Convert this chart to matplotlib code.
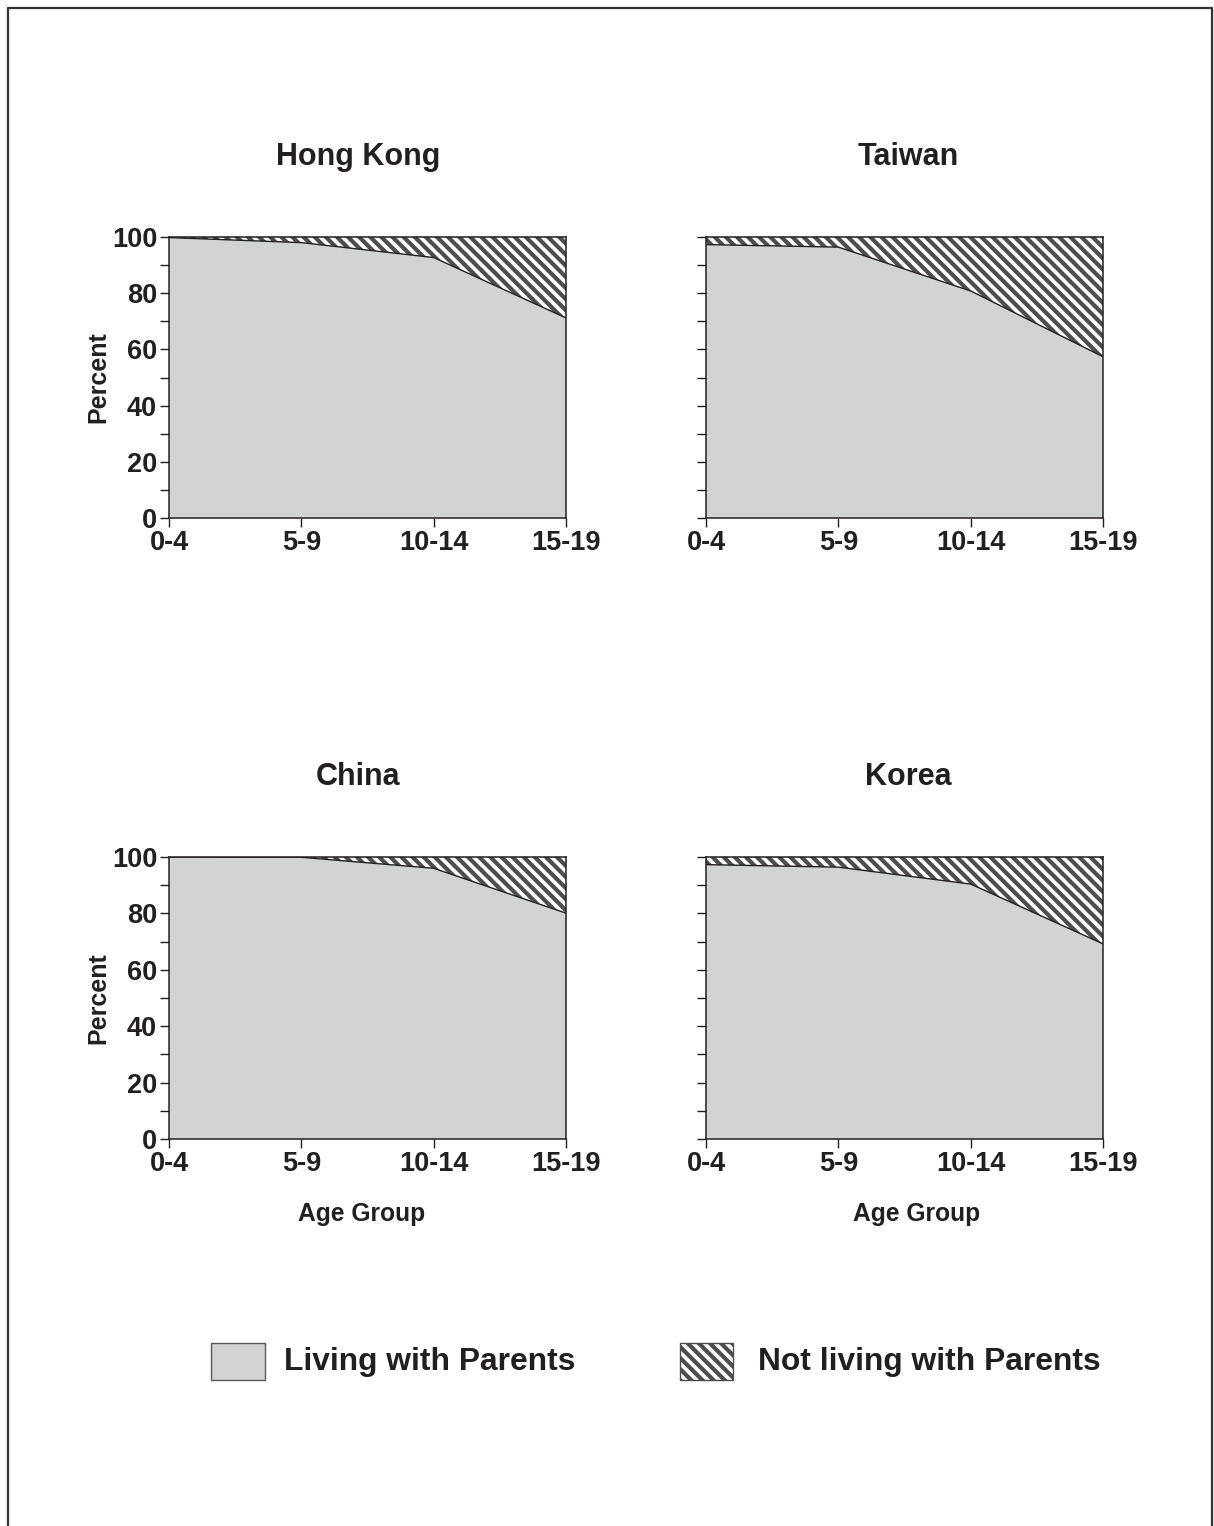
import numpy as np
import matplotlib
matplotlib.use("Agg")
import matplotlib.pyplot as plt
from matplotlib.patches import Rectangle
from matplotlib.lines import Line2D

# data (percent living with parents)
ageGroups = ["0-4", "5-9", "10-14", "15-19"]
countries = ["Hong Kong", "Taiwan", "China", "Korea"]
hongKong = [99.8, 98.0, 92.7, 71.2]
taiwan = [97.3, 96.4, 80.8, 57.4]
china = [100.0, 99.9, 96.0, 80.1]
korea = [97.3, 96.4, 90.4, 69.2]
yTicks = [0, 20, 40, 60, 80, 100]

living = [hongKong, taiwan, china, korea]

plt.rcParams['font.family'] = ['Liberation Sans', 'DejaVu Sans']
plt.rcParams['font.weight'] = 'bold'
plt.rcParams['axes.labelweight'] = 'bold'
plt.rcParams['hatch.linewidth'] = 3.0

textColor = '#231f20'
grayFill = '#d1d3d4'
hatchColor = '#4d4d4f'
hatchPattern = '\\\\\\'

W, H = 1214, 1526
fig = plt.figure(figsize=(W / 100, H / 100), dpi=100)

# axes boxes in pixels: left, top, right, bottom
boxes = [(169, 237, 566, 518), (706, 237, 1103, 518),
         (169, 857, 566, 1139), (706, 857, 1103, 1139)]
titleX = [0.477, 0.509, 0.477, 0.509]
xlabelX = [0, 0, 0.485, 0.53]

x = np.arange(len(ageGroups))
for i, (name, vals) in enumerate(zip(countries, living)):
    l, t, r, b = boxes[i]
    ax = fig.add_axes([l / W, 1 - b / H, (r - l) / W, (b - t) / H])
    ax.fill_between(x, 0, vals, facecolor=grayFill, linewidth=0)
    ax.fill_between(x, vals, 100, facecolor='white', edgecolor=hatchColor,
                    hatch=hatchPattern, linewidth=0)
    ax.plot(x, vals, color=textColor, lw=1.0)
    ax.set_xlim(0, 3)
    ax.set_ylim(0, 100)
    ax.set_xticks(x)
    ax.set_xticklabels(ageGroups, fontsize=19.5, color=textColor)
    ax.set_yticks(yTicks)
    ax.set_yticks([10, 30, 50, 70, 90], minor=True)
    if i % 2 == 0:
        ax.set_yticklabels([str(v) for v in yTicks], fontsize=19.5, color=textColor)
        ax.set_ylabel("Percent", fontsize=18, color=textColor, labelpad=1)
    else:
        ax.set_yticklabels([])
    ax.tick_params(axis='both', which='both', direction='out', length=6.5,
                   width=1.0, color=textColor, pad=2)
    for s in ax.spines.values():
        s.set_color(textColor)
        s.set_linewidth(1.1)
    ax.text(titleX[i], 1.285, name, transform=ax.transAxes, ha='center',
            va='center', fontsize=22, color=textColor)
    if i >= 2:
        ax.text(xlabelX[i], -0.265, "Age Group", transform=ax.transAxes,
                ha='center', va='center', fontsize=17.7, color=textColor)

# legend
fig.add_artist(Rectangle((211 / W, 1 - 1380 / H), 54 / W, 37 / H,
                         transform=fig.transFigure, facecolor=grayFill,
                         edgecolor='#58595b', linewidth=1.0))
fig.add_artist(Rectangle((680 / W, 1 - 1380 / H), 53 / W, 37 / H,
                         transform=fig.transFigure, facecolor='white',
                         edgecolor=hatchColor, hatch=hatchPattern, linewidth=1.0))
fig.text(284 / W, 1 - 1362 / H, "Living with Parents", fontsize=22.9,
         va='center', ha='left', color=textColor)
fig.text(758 / W, 1 - 1362 / H, "Not living with Parents", fontsize=22.9,
         va='center', ha='left', color=textColor)

# page frame (open at bottom)
fig.add_artist(Line2D([8 / W, 8 / W, 1212 / W, 1212 / W],
                      [0, 1 - 8 / H, 1 - 8 / H, 0],
                      transform=fig.transFigure, color='#333333', lw=1.6))

fig.savefig("out.png", dpi=100)
